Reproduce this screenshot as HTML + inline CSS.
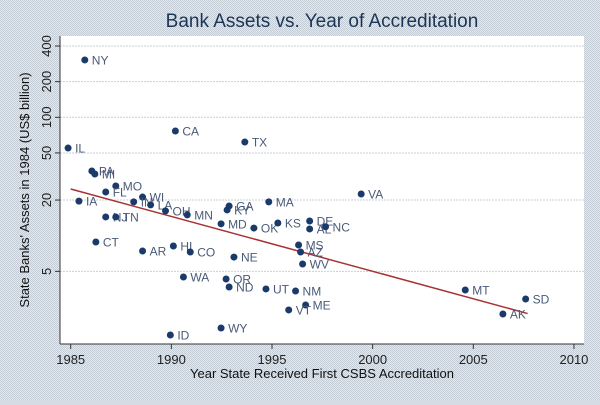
<!DOCTYPE html>
<html><head><meta charset="utf-8"><style>
html,body{margin:0;padding:0;}
body{width:600px;height:400px;overflow:hidden;background:#d6dce4;font-family:"Liberation Sans",sans-serif;}
svg text{font-family:"Liberation Sans",sans-serif;}
</style></head><body>
<svg id="chart" width="600" height="400" viewBox="0 0 600 400" xmlns="http://www.w3.org/2000/svg">
<defs><pattern id="dots" width="2" height="2" patternUnits="userSpaceOnUse"><rect width="2" height="2" fill="#e4e8ee"/><rect width="1" height="1" fill="#c4ccd6"/><rect x="1" y="1" width="1" height="1" fill="#c4ccd6"/></pattern></defs>
<rect width="600" height="400" fill="url(#dots)"/>
<rect x="60" y="36" width="524" height="308" fill="#ffffff"/>
<text x="322" y="27" text-anchor="middle" font-size="19" fill="#1c3556">Bank Assets vs. Year of Accreditation</text>
<text x="322" y="378" text-anchor="middle" font-size="13" fill="#111">Year State Received First CSBS Accreditation</text>
<text transform="translate(29,190) rotate(-90)" text-anchor="middle" font-size="13" fill="#111">State Banks' Assets in 1984 (US$ billion)</text>
<g id="grid"></g><g id="axes"></g><g id="fit"></g><g id="pts"></g>
</svg>
<script>
const states=["NY","IL","CA","TX","PA","MI","MO","FL","IA","WI","IN","LA","OH","MN","NJ","TN","CT","AR","HI","CO","NE","WA","OR","ND","UT","NM","ME","VT","WY","ID","MD","OK","KS","DE","AL","NC","MS","AZ","WV","GA","KY","MA","VA","MT","SD","AK"];
const years=[1985.7,1984.87,1990.2,1993.65,1986.05,1986.2,1987.24,1986.74,1985.41,1988.57,1988.13,1988.97,1989.71,1990.79,1986.74,1987.24,1986.25,1988.57,1990.1,1990.94,1993.11,1990.6,1992.72,1992.87,1994.7,1996.17,1996.67,1995.83,1992.47,1989.95,1992.47,1994.1,1995.29,1996.87,1996.87,1997.66,1996.32,1996.42,1996.52,1992.87,1992.77,1994.84,1999.43,2004.6,2007.6,2006.47];
const assets=[305,55,76.6,61.8,35.2,33.2,26.3,23.4,19.6,21.2,19.3,18.2,16.2,15.0,14.4,14.4,8.85,7.43,8.18,7.28,6.6,4.48,4.31,3.69,3.55,3.41,2.6,2.36,1.66,1.45,12.6,11.6,12.8,13.3,11.4,11.9,8.35,7.28,5.77,17.8,16.5,19.3,22.5,3.48,2.92,2.18];
const xTicks=[1985,1990,1995,2000,2005,2010];
const yTicks=[5,20,50,100,200,400];
const fitX=[1985,2007.7];
const fitY=[24.8,2.2];
const NS="http://www.w3.org/2000/svg";
const xs=v=>70.7+(v-1985)*20.13;
const ys=v=>117.3-118.4*Math.log10(v/100);
function mk(tag,attrs,parent,text){const e=document.createElementNS(NS,tag);for(const k in attrs)e.setAttribute(k,attrs[k]);if(text!==undefined)e.textContent=text;document.getElementById(parent).appendChild(e);return e;}
let e;
e=mk("line",{x1:60,y1:36,x2:60,y2:344,stroke:"#333","stroke-width":1},"axes");


e=mk("line",{x1:60,y1:344,x2:584,y2:344,stroke:"#333","stroke-width":1},"axes");


yTicks.forEach(v=>{const y=ys(v);
 e=mk("line",{x1:60,y1:y,x2:584,y2:y,stroke:"#c8cfd8","stroke-width":1,"stroke-dasharray":"2,1"},"grid");
 
 
 e=mk("line",{x1:55,y1:y,x2:60,y2:y,stroke:"#333"},"axes");
 
 
 e=mk("text",{transform:`translate(51,${y}) rotate(-90)`,"text-anchor":"middle","font-size":13,fill:"#222"},"axes",String(v));
 
 
});
xTicks.forEach(v=>{const x=xs(v);
 e=mk("line",{x1:x,y1:344,x2:x,y2:349,stroke:"#333"},"axes");
 
 
 e=mk("text",{x:x,y:364,"text-anchor":"middle","font-size":13,fill:"#222"},"axes",String(v));
 
 
});
e=mk("line",{x1:xs(fitX[0]),y1:ys(fitY[0]),x2:xs(fitX[1]),y2:ys(fitY[1]),stroke:"#a83232","stroke-width":1.5},"fit");


states.forEach((s,i)=>{const x=xs(years[i]),y=ys(assets[i]);
 e=mk("circle",{cx:x,cy:y,r:3.5,fill:"#1a3a6a"},"pts");
 
 
 e=mk("text",{x:x+7,y:y+4.5,"font-size":12,fill:"#4a5a78"},"pts",s);
 
 
});
</script>
</body></html>
